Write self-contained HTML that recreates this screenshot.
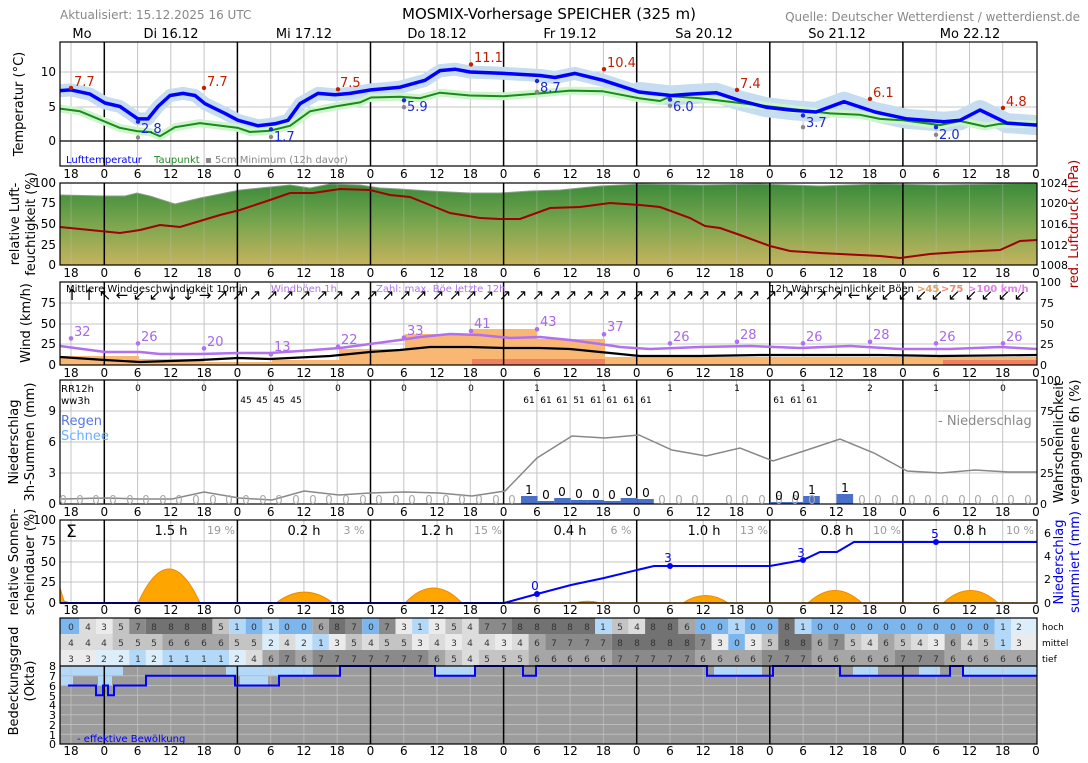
<!DOCTYPE html>
<html><head><meta charset="utf-8"><style>
body{margin:0;background:#fff}
svg{display:block;font-family:"DejaVu Sans","Liberation Sans",sans-serif}
.c0{fill:#7db6ec}.c1{fill:#b4d8f8}.c2{fill:#dceef9}.c3{fill:#ebebeb}.c4{fill:#dcdcdc}.c5{fill:#c4c4c4}.c6{fill:#a6a6a6}.c7{fill:#8a8a8a}.c8{fill:#727272}
</style></head><body>
<svg width="1088" height="763" viewBox="0 0 1088 763" xmlns="http://www.w3.org/2000/svg">
<defs>
<linearGradient id="hg" x1="0" y1="0" x2="0" y2="1">
<stop offset="0" stop-color="#3a8a3a"/><stop offset="0.5" stop-color="#7aa64e"/><stop offset="1" stop-color="#c6b35e"/>
</linearGradient>
<clipPath id="ct"><rect x="60" y="42" width="977" height="124"/></clipPath>
<path id="vl" d="M71,0V1M137.6,0V1M170.8,0V1M204.1,0V1M270.7,0V1M303.9,0V1M337.2,0V1M403.8,0V1M437,0V1M470.3,0V1M536.9,0V1M570.1,0V1M603.4,0V1M670,0V1M703.2,0V1M736.5,0V1M803.1,0V1M836.3,0V1M869.6,0V1M936.2,0V1M969.5,0V1M1002.7,0V1" stroke="#c4c4c4" stroke-width="1" fill="none"/>
<path id="vd" d="M104.3,0V1M237.4,0V1M370.5,0V1M503.6,0V1M636.7,0V1M769.8,0V1M902.9,0V1" stroke="#000" stroke-width="1.5" fill="none"/>
<g id="tk" font-size="12" text-anchor="middle" fill="#000">
<text x="71">18</text><text x="104.3">0</text><text x="137.6">6</text><text x="170.8">12</text><text x="204.1">18</text><text x="237.4">0</text><text x="270.7">6</text><text x="303.9">12</text><text x="337.2">18</text><text x="370.5">0</text><text x="403.8">6</text><text x="437">12</text><text x="470.3">18</text><text x="503.6">0</text><text x="536.9">6</text><text x="570.1">12</text><text x="603.4">18</text><text x="636.7">0</text><text x="670">6</text><text x="703.2">12</text><text x="736.5">18</text><text x="769.8">0</text><text x="803.1">6</text><text x="836.3">12</text><text x="869.6">18</text><text x="902.9">0</text><text x="936.2">6</text><text x="969.5">12</text><text x="1002.7">18</text><text x="1036">0</text>
</g>
</defs>
<rect width="1088" height="763" fill="#fff"/>

<!-- ===== Temperature ===== -->
<path d="M60,72H1037M60,107H1037" stroke="#c4c4c4"/>
<use href="#vl" transform="translate(0,42) scale(1,124)"/>
<use href="#vd" transform="translate(0,42) scale(1,124)"/>
<path d="M60,141H1037" stroke="#000" stroke-width="1.2"/>
<g clip-path="url(#ct)" fill="none" stroke-linejoin="round" stroke-linecap="round">
<path d="M639,92L671,95.5L690,94.1L716,92.7L739,100.3L766,107.2L790,110L816,112L844,101.7L875,112L907,118.9L944,121.7L960,120.3L980,110L1007,123.1L1037,125.1" stroke="#c6dcf0" stroke-width="20"/>
<path d="M60,90.6L71,89.9L90,94.1L105,103L120,106.5L138,118.9L148,118.9L158,106.5L170,95.5L183,93.4L195,95.5L205,103.7L225,113.4L238,120.3L258,125.8L275,123.8L288,120.3L300,103.7L318,93.4L335,94.8L350,93.4L371,89.9L400,87.2L425,80.3L440,70.6L455,69.2L470,72L504,73.4L540,75.5L555,77.5L575,73.4L603,80.3L639,92L671,95.5L690,94.1L716,92.7L739,100.3L766,107.2L790,110L816,112L844,101.7L875,112L907,118.9L944,121.7L960,120.3L980,110L1007,123.1L1037,125.1" stroke="#c6dcf0" stroke-width="13"/>
<path d="M60,108.6L80,111.3L105,121.7L120,127.9L138,131.3L150,132L160,136.2L175,127.2L200,123.1L238,127.9L250,132L270,130.7L290,125.8L310,111.3L335,106.5L360,102.4L371,97.5L400,96.8L420,98.2L440,92.7L470,95.5L504,96.2L540,93.4L570,90.6L603,91.3L639,98.2L660,101L671,96.2L700,98.2L740,103L770,106.5L800,110L830,113.4L860,114.8L880,118.9L903,120.3L940,125.1L960,121L985,126.5L1000,123.8L1037,124.4" stroke="#ccf5cc" stroke-width="8"/>
<path d="M60,108.6L80,111.3L105,121.7L120,127.9L138,131.3L150,132L160,136.2L175,127.2L200,123.1L238,127.9L250,132L270,130.7L290,125.8L310,111.3L335,106.5L360,102.4L371,97.5L400,96.8L420,98.2L440,92.7L470,95.5L504,96.2L540,93.4L570,90.6L603,91.3L639,98.2L660,101L671,96.2L700,98.2L740,103L770,106.5L800,110L830,113.4L860,114.8L880,118.9L903,120.3L940,125.1L960,121L985,126.5L1000,123.8L1037,124.4" stroke="#1a8a1a" stroke-width="2"/>
<path d="M60,90.6L71,89.9L90,94.1L105,103L120,106.5L138,118.9L148,118.9L158,106.5L170,95.5L183,93.4L195,95.5L205,103.7L225,113.4L238,120.3L258,125.8L275,123.8L288,120.3L300,103.7L318,93.4L335,94.8L350,93.4L371,89.9L400,87.2L425,80.3L440,70.6L455,69.2L470,72L504,73.4L540,75.5L555,77.5L575,73.4L603,80.3L639,92L671,95.5L690,94.1L716,92.7L739,100.3L766,107.2L790,110L816,112L844,101.7L875,112L907,118.9L944,121.7L960,120.3L980,110L1007,123.1L1037,125.1" stroke="#0000ff" stroke-width="3.5"/>
</g>
<g fill="#c02000"><circle cx="71" cy="87.9" r="2.2"/><circle cx="204" cy="87.9" r="2.2"/><circle cx="338" cy="89.3" r="2.2"/><circle cx="471" cy="64.4" r="2.2"/><circle cx="604" cy="69.2" r="2.2"/><circle cx="737" cy="89.9" r="2.2"/><circle cx="870" cy="98.9" r="2.2"/><circle cx="1003" cy="107.9" r="2.2"/></g>
<g fill="#1a2ad0"><circle cx="138" cy="121.7" r="2.2"/><circle cx="271" cy="129.3" r="2.2"/><circle cx="404" cy="100.3" r="2.2"/><circle cx="537" cy="81" r="2.2"/><circle cx="670" cy="99.6" r="2.2"/><circle cx="803" cy="115.5" r="2.2"/><circle cx="936" cy="127.2" r="2.2"/></g>
<g fill="#888"><circle cx="138" cy="137.5" r="2.2"/><circle cx="271" cy="136.9" r="2.2"/><circle cx="404" cy="107.2" r="2.2"/><circle cx="537" cy="92" r="2.2"/><circle cx="670" cy="105.8" r="2.2"/><circle cx="803" cy="127.2" r="2.2"/><circle cx="936" cy="134.8" r="2.2"/></g>

<!-- ===== Humidity ===== -->
<path d="M60,195L105,196L125,196L137,193L150,196L175,204L200,198L240,190L270,187L290,185L310,188L330,184L360,185L380,188L400,189L430,191L470,193L500,193L530,191L560,190L600,186L640,184L700,185L760,184L820,186L880,184L940,185L1000,184L1037,183L1037,265L60,265Z" fill="url(#hg)"/>
<path d="M60,195L105,196L125,196L137,193L150,196L175,204L200,198L240,190L270,187L290,185L310,188L330,184L360,185L380,188L400,189L430,191L470,193L500,193L530,191L560,190L600,186L640,184L700,185L760,184L820,186L880,184L940,185L1000,184L1037,183" fill="none" stroke="#8aa08a"/>
<use href="#vl" transform="translate(0,183) scale(1,82)" opacity="0.35"/>
<use href="#vd" transform="translate(0,183) scale(1,82)"/>
<path d="M60,227L90,230L120,233L140,230L160,225L180,227L200,221L220,215L240,210L270,200L290,193L313,193L340,189L370,190L390,195L410,197L430,205L450,213L480,218L500,219L520,219L550,208L580,207L610,203L640,205L660,207L690,218L705,226L720,228L740,235L770,246L790,251L820,253L840,254L860,255L880,256L900,258L930,254L960,252L1000,250L1020,241L1037,240" fill="none" stroke="#a00000" stroke-width="2"/>

<!-- ===== Wind ===== -->
<path d="M60,303H1037M60,324H1037M60,344H1037" stroke="#c4c4c4"/>
<use href="#vl" transform="translate(0,282) scale(1,83)"/>
<g fill="#f8b874">
<rect x="60" y="356" width="79" height="9"/><rect x="139" y="359" width="65" height="6"/><rect x="204" y="362" width="68" height="3"/><rect x="272" y="360" width="67" height="5"/><rect x="339" y="349" width="66" height="16"/><rect x="405" y="334" width="67" height="31"/><rect x="472" y="329" width="65" height="36"/><rect x="537" y="339" width="68" height="26"/><rect x="605" y="357" width="432" height="8"/>
</g>
<rect x="472" y="359" width="133" height="6" fill="#f08060"/><rect x="943" y="360" width="94" height="5" fill="#f08060"/>
<use href="#vd" transform="translate(0,282) scale(1,83)"/>
<path d="M60,346L105,352L140,352L160,354L200,354L238,353L270,353L300,351L340,348L370,344L400,340L420,337L450,334L480,335L510,338L540,337L570,340L600,344L620,347L650,349L700,347L750,346L800,348L850,346L900,349L950,349L1000,347L1037,349" fill="none" stroke="#b070f0" stroke-width="2.5"/>
<path d="M60,357L105,360L140,362L200,360L238,358L270,359L330,356L370,352L400,350L430,347L470,347L504,348L540,348L570,349L600,352L620,354L640,356L700,356L760,355L820,355L880,355L940,356L1037,355" fill="none" stroke="#000" stroke-width="2.2"/>
<g fill="#b070f0"><circle cx="71" cy="338.4" r="2.3"/><circle cx="138" cy="343.4" r="2.3"/><circle cx="204" cy="348.4" r="2.3"/><circle cx="271" cy="354.2" r="2.3"/><circle cx="338" cy="346.7" r="2.3"/><circle cx="404" cy="337.6" r="2.3"/><circle cx="471" cy="331" r="2.3"/><circle cx="537" cy="329.3" r="2.3"/><circle cx="604" cy="334.3" r="2.3"/><circle cx="670" cy="343.4" r="2.3"/><circle cx="737" cy="341.8" r="2.3"/><circle cx="803" cy="343.4" r="2.3"/><circle cx="870" cy="341.8" r="2.3"/><circle cx="936" cy="343.4" r="2.3"/><circle cx="1003" cy="343.4" r="2.3"/></g>
<text transform="translate(72,0)" y="300" font-size="15" text-anchor="middle" x="0 17 33 50 67 83 100 116 133 150 166 183 200 216 233 250 266 283 300 316 333 349 366 383 399 416 433 449 466 483 499 516 532 549 566 582 599 616 632 649 666 682 699 716 732 749 765 782 799 815 832 849 865 882 899 915 932 948">↑↑↖←↙↙↓↓→↗↗↗↗↗↗↗↗↗↗↗↗↗↗↗↗↗↗↗↗↗↗↗↗↗↗↗↗↗↗↗↗↗↗↗↗↗↗←↙↙↙↙↙↙↙↙↙↙</text>

<!-- ===== Precip ===== -->
<path d="M60,411H1037M60,442H1037M60,473H1037" stroke="#c4c4c4"/>
<use href="#vl" transform="translate(0,380) scale(1,124)"/>
<use href="#vd" transform="translate(0,380) scale(1,124)"/>
<path d="M61,499L105,498L139,499L172,499L204,492L239,498L272,500L304,491L339,495L370,493L405,492L439,493L472,496L505,491L537,458L572,436L605,438L639,435L672,450L706,456L740,448L773,461L807,450L840,439L874,453L907,471L941,473L975,470L1008,472L1037,472" fill="none" stroke="#888" stroke-width="1.5"/>
<g fill="#4a70c8">
<rect x="521" y="496" width="16.6" height="8"/><rect x="537.6" y="501" width="16.6" height="3"/><rect x="554.2" y="498" width="16.6" height="6"/><rect x="570.8" y="500" width="16.6" height="4"/><rect x="587.4" y="500" width="16.6" height="4"/><rect x="604" y="501" width="16.6" height="3"/><rect x="620.6" y="498" width="16.6" height="6"/><rect x="637.2" y="499" width="16.6" height="5"/>
<rect x="770" y="502" width="16.6" height="2"/><rect x="786.6" y="502" width="16.6" height="2"/><rect x="803.2" y="496" width="16.6" height="8"/><rect x="836.5" y="494" width="16.6" height="10"/>
</g>

<!-- ===== Sun ===== -->
<path d="M60,541H1037M60,562H1037M60,582H1037" stroke="#c4c4c4"/>
<use href="#vl" transform="translate(0,520) scale(1,83)"/>
<g fill="#ffa500" stroke="#f08a00">
<path d="M60,588L64,601L70,603L60,603Z"/>
<path d="M138,603Q169,535 200,603Z"/><path d="M276,603Q304.5,581.4 333,603Z"/><path d="M405,603Q433.5,573 462,603Z"/><path d="M575,603Q587.5,599.6 600,603Z"/><path d="M683,603Q705.5,588 728,603Z"/><path d="M808,603Q835,578 862,603Z"/><path d="M943,603Q970.5,578 998,603Z"/>
</g>
<use href="#vd" transform="translate(0,520) scale(1,83)"/>
<path d="M60,603H1037" stroke="#f08a00" stroke-width="1.5"/>
<path d="M60,603L504,603L537,594L571,585L604,578L637,570L654,566L670,566L770,566L803,560L820,552L837,552L854,542L1037,542" fill="none" stroke="#0000ff" stroke-width="2"/>
<g fill="#0000ff"><circle cx="537" cy="594" r="3"/><circle cx="670" cy="566" r="3"/><circle cx="803" cy="560" r="3"/><circle cx="936" cy="542" r="3"/></g>

<!-- ===== Cloud grid ===== -->
<g>
<rect class="c0" x="60" y="618" width="19.3" height="16"/><rect class="c4" x="79.3" y="618" width="16.7" height="16"/><rect class="c3" x="96" y="618" width="16.6" height="16"/><rect class="c5" x="112.6" y="618" width="16.6" height="16"/><rect class="c7" x="129.2" y="618" width="16.7" height="16"/><rect class="c8" x="145.9" y="618" width="66.5" height="16"/><rect class="c5" x="212.4" y="618" width="16.7" height="16"/><rect class="c1" x="229.1" y="618" width="16.6" height="16"/><rect class="c0" x="245.7" y="618" width="16.7" height="16"/><rect class="c1" x="262.4" y="618" width="16.6" height="16"/><rect class="c0" x="279" y="618" width="33.3" height="16"/><rect class="c6" x="312.3" y="618" width="16.6" height="16"/><rect class="c8" x="328.9" y="618" width="16.7" height="16"/><rect class="c7" x="345.6" y="618" width="16.6" height="16"/><rect class="c0" x="362.2" y="618" width="16.6" height="16"/><rect class="c7" x="378.8" y="618" width="16.7" height="16"/><rect class="c3" x="395.5" y="618" width="16.6" height="16"/><rect class="c1" x="412.1" y="618" width="16.7" height="16"/><rect class="c3" x="428.8" y="618" width="16.6" height="16"/><rect class="c5" x="445.4" y="618" width="16.6" height="16"/><rect class="c4" x="462" y="618" width="16.7" height="16"/><rect class="c7" x="478.7" y="618" width="33.3" height="16"/><rect class="c8" x="512" y="618" width="83.2" height="16"/><rect class="c1" x="595.2" y="618" width="16.6" height="16"/><rect class="c5" x="611.8" y="618" width="16.6" height="16"/><rect class="c4" x="628.4" y="618" width="16.7" height="16"/><rect class="c8" x="645.1" y="618" width="33.3" height="16"/><rect class="c6" x="678.4" y="618" width="16.6" height="16"/><rect class="c0" x="695" y="618" width="33.3" height="16"/><rect class="c1" x="728.3" y="618" width="16.6" height="16"/><rect class="c0" x="744.9" y="618" width="33.3" height="16"/><rect class="c8" x="778.2" y="618" width="16.6" height="16"/><rect class="c1" x="794.8" y="618" width="16.7" height="16"/><rect class="c0" x="811.5" y="618" width="183" height="16"/><rect class="c1" x="994.5" y="618" width="16.7" height="16"/><rect class="c2" x="1011.2" y="618" width="25.8" height="16"/>

<rect class="c4" x="60" y="634" width="52.6" height="16"/><rect class="c5" x="112.6" y="634" width="49.9" height="16"/><rect class="c6" x="162.5" y="634" width="66.6" height="16"/><rect class="c5" x="229.1" y="634" width="33.3" height="16"/><rect class="c2" x="262.4" y="634" width="16.6" height="16"/><rect class="c4" x="279" y="634" width="16.6" height="16"/><rect class="c2" x="295.6" y="634" width="16.7" height="16"/><rect class="c1" x="312.3" y="634" width="16.6" height="16"/><rect class="c3" x="328.9" y="634" width="16.7" height="16"/><rect class="c5" x="345.6" y="634" width="16.6" height="16"/><rect class="c4" x="362.2" y="634" width="16.6" height="16"/><rect class="c5" x="378.8" y="634" width="33.3" height="16"/><rect class="c3" x="412.1" y="634" width="16.7" height="16"/><rect class="c4" x="428.8" y="634" width="16.6" height="16"/><rect class="c3" x="445.4" y="634" width="16.6" height="16"/><rect class="c4" x="462" y="634" width="33.3" height="16"/><rect class="c3" x="495.3" y="634" width="16.7" height="16"/><rect class="c4" x="512" y="634" width="16.6" height="16"/><rect class="c6" x="528.6" y="634" width="16.6" height="16"/><rect class="c7" x="545.2" y="634" width="66.6" height="16"/><rect class="c8" x="611.8" y="634" width="83.2" height="16"/><rect class="c7" x="695" y="634" width="16.6" height="16"/><rect class="c3" x="711.6" y="634" width="16.7" height="16"/><rect class="c0" x="728.3" y="634" width="16.6" height="16"/><rect class="c3" x="744.9" y="634" width="16.7" height="16"/><rect class="c5" x="761.6" y="634" width="16.6" height="16"/><rect class="c8" x="778.2" y="634" width="33.3" height="16"/><rect class="c6" x="811.5" y="634" width="16.6" height="16"/><rect class="c7" x="828.1" y="634" width="16.7" height="16"/><rect class="c5" x="844.8" y="634" width="16.6" height="16"/><rect class="c4" x="861.4" y="634" width="16.6" height="16"/><rect class="c6" x="878" y="634" width="16.7" height="16"/><rect class="c5" x="894.7" y="634" width="16.6" height="16"/><rect class="c4" x="911.3" y="634" width="16.7" height="16"/><rect class="c3" x="928" y="634" width="16.6" height="16"/><rect class="c6" x="944.6" y="634" width="16.6" height="16"/><rect class="c4" x="961.2" y="634" width="16.7" height="16"/><rect class="c5" x="977.9" y="634" width="16.6" height="16"/><rect class="c1" x="994.5" y="634" width="16.7" height="16"/><rect class="c3" x="1011.2" y="634" width="25.8" height="16"/>

<rect class="c3" x="60" y="650" width="36" height="16"/><rect class="c2" x="96" y="650" width="33.2" height="16"/><rect class="c1" x="129.2" y="650" width="16.7" height="16"/><rect class="c2" x="145.9" y="650" width="16.6" height="16"/><rect class="c1" x="162.5" y="650" width="66.6" height="16"/><rect class="c2" x="229.1" y="650" width="16.6" height="16"/><rect class="c4" x="245.7" y="650" width="16.7" height="16"/><rect class="c6" x="262.4" y="650" width="16.6" height="16"/><rect class="c7" x="279" y="650" width="16.6" height="16"/><rect class="c6" x="295.6" y="650" width="16.7" height="16"/><rect class="c7" x="312.3" y="650" width="116.5" height="16"/><rect class="c6" x="428.8" y="650" width="16.6" height="16"/><rect class="c5" x="445.4" y="650" width="16.6" height="16"/><rect class="c4" x="462" y="650" width="16.7" height="16"/><rect class="c5" x="478.7" y="650" width="49.9" height="16"/><rect class="c6" x="528.6" y="650" width="83.2" height="16"/><rect class="c7" x="611.8" y="650" width="83.2" height="16"/><rect class="c6" x="695" y="650" width="66.6" height="16"/><rect class="c7" x="761.6" y="650" width="49.9" height="16"/><rect class="c6" x="811.5" y="650" width="83.2" height="16"/><rect class="c7" x="894.7" y="650" width="49.9" height="16"/><rect class="c6" x="944.6" y="650" width="92.4" height="16"/>
</g>

<!-- ===== Cloud graph ===== -->
<rect x="60" y="666" width="977" height="78" fill="#9c9c9c"/>
<g fill="#b4d8f8">
<rect x="61" y="666" width="62" height="10"/><rect x="61" y="676" width="12" height="9"/><rect x="98" y="676" width="14" height="9"/><rect x="226" y="666" width="87" height="10"/><rect x="240" y="676" width="28" height="9"/><rect x="435" y="666" width="40" height="10"/><rect x="714" y="666" width="48" height="10"/><rect x="853" y="666" width="25" height="10"/><rect x="919" y="666" width="21" height="10"/><rect x="963" y="666" width="74" height="10"/>
</g>
<path d="M60,675.75H1037M60,685.5H1037M60,695.25H1037M60,705H1037M60,714.75H1037M60,724.5H1037M60,734.25H1037" stroke="#bcbcbc"/>
<use href="#vl" transform="translate(0,666) scale(1,78)" opacity="0.7"/>
<use href="#vd" transform="translate(0,666) scale(1,78)"/>
<path d="M68,685.5H96V695.3H103V685.5H108V695.3H114V685.5H146V675.8H235V685.5H279V675.8H340V666H435V675.8H475V666H523V675.8H536V666H707V675.8H773V666H840V675.8H950V666H963V675.8H1037" fill="none" stroke="#0000ff" stroke-width="2"/>

<!-- frames -->
<g fill="none" stroke="#000" stroke-width="1.2">
<rect x="60" y="42" width="977" height="124"/><rect x="60" y="183" width="977" height="82"/><rect x="60" y="282" width="977" height="83"/><rect x="60" y="380" width="977" height="124"/><rect x="60" y="520" width="977" height="83"/><rect x="60" y="618" width="977" height="126"/>
</g>
<path d="M60,666H1037" stroke="#000" stroke-width="1.2"/>

<!-- header -->
<text x="60" y="19" font-size="12" fill="#888">Aktualisiert: 15.12.2025 16 UTC</text>
<text x="549" y="19" font-size="15" text-anchor="middle">MOSMIX-Vorhersage SPEICHER (325 m)</text>
<text x="1080" y="21" font-size="12" fill="#888" text-anchor="end">Quelle: Deutscher Wetterdienst / wetterdienst.de</text>
<g font-size="13" text-anchor="middle">
<text x="82" y="38">Mo</text><text x="171" y="38">Di 16.12</text><text x="304" y="38">Mi 17.12</text><text x="437" y="38">Do 18.12</text><text x="570" y="38">Fr 19.12</text><text x="704" y="38">Sa 20.12</text><text x="837" y="38">So 21.12</text><text x="970" y="38">Mo 22.12</text>
</g>

<use href="#tk" y="178"/><use href="#tk" y="277"/><use href="#tk" y="377"/><use href="#tk" y="516"/><use href="#tk" y="614"/><use href="#tk" y="755"/>

<g font-size="12" text-anchor="end">
<text x="56" y="76">10</text><text x="56" y="111">5</text><text x="56" y="145">0</text>
<text x="56" y="187">100</text><text x="56" y="207">75</text><text x="56" y="228">50</text><text x="56" y="249">25</text><text x="56" y="269">0</text>
<text x="56" y="307">75</text><text x="56" y="328">50</text><text x="56" y="348">25</text><text x="56" y="369">0</text>
<text x="56" y="415">9</text><text x="56" y="446">6</text><text x="56" y="477">3</text><text x="56" y="508">0</text>
<text x="56" y="524">100</text><text x="56" y="545">75</text><text x="56" y="566">50</text><text x="56" y="586">25</text><text x="56" y="607">0</text>
</g>
<g font-size="11" text-anchor="end">
<text x="56" y="670">8</text><text x="56" y="680">7</text><text x="56" y="690">6</text><text x="56" y="700">5</text><text x="56" y="709">4</text><text x="56" y="719">3</text><text x="56" y="729">2</text><text x="56" y="739">1</text><text x="56" y="748">0</text>
</g>
<g font-size="11">
<text x="1040" y="187">1024</text><text x="1040" y="207">1020</text><text x="1040" y="228">1016</text><text x="1040" y="249">1012</text><text x="1040" y="269">1008</text>
<text x="1040" y="286">100</text><text x="1040" y="307">75</text><text x="1040" y="328">50</text><text x="1040" y="348">25</text><text x="1040" y="369">0</text>
<text x="1040" y="384">100</text><text x="1040" y="415">75</text><text x="1040" y="446">50</text><text x="1040" y="477">25</text><text x="1040" y="508">0</text>
<text x="1044" y="537">6</text><text x="1044" y="560">4</text><text x="1044" y="583">2</text><text x="1044" y="607">0</text>
<text x="1042" y="630" font-size="9">hoch</text><text x="1042" y="646" font-size="9">mittel</text><text x="1042" y="662" font-size="9">tief</text>
</g>

<g font-size="13" text-anchor="middle">
<text transform="translate(23,104) rotate(-90)">Temperatur (°C)</text>
<text transform="translate(19,224) rotate(-90)">relative Luft-</text>
<text transform="translate(35,224) rotate(-90)">feuchtigkeit (%)</text>
<text transform="translate(30,323) rotate(-90)">Wind (km/h)</text>
<text transform="translate(18,442) rotate(-90)">Niederschlag</text>
<text transform="translate(34,442) rotate(-90)">3h-Summen (mm)</text>
<text transform="translate(18,562) rotate(-90)">relative Sonnen-</text>
<text transform="translate(34,562) rotate(-90)">scheindauer (%)</text>
<text transform="translate(18,681) rotate(-90)">Bedeckungsgrad</text>
<text transform="translate(34,681) rotate(-90)">(Okta)</text>
<text transform="translate(1078,224) rotate(-90)" fill="#b00000">red. Luftdruck (hPa)</text>
<text transform="translate(1063,442) rotate(-90)">Wahrscheinlichkeit</text>
<text transform="translate(1079,442) rotate(-90)">vergangene 6h (%)</text>
<text transform="translate(1063,562) rotate(-90)" fill="#0000e0">Niederschlag</text>
<text transform="translate(1079,562) rotate(-90)" fill="#0000e0">summiert (mm)</text>
</g>

<g font-size="13">
<g fill="#c02000"><text x="74" y="86">7.7</text><text x="207" y="86">7.7</text><text x="340" y="87">7.5</text><text x="474" y="62">11.1</text><text x="607" y="67">10.4</text><text x="740" y="88">7.4</text><text x="873" y="97">6.1</text><text x="1006" y="106">4.8</text></g>
<g fill="#1a2ad0"><text x="141" y="133">2.8</text><text x="274" y="141">1.7</text><text x="407" y="111">5.9</text><text x="540" y="92">8.7</text><text x="673" y="111">6.0</text><text x="806" y="127">3.7</text><text x="939" y="139">2.0</text></g>
</g>
<text x="66" y="163" font-size="10" fill="#0000ff">Lufttemperatur</text>
<text x="154" y="163" font-size="10" fill="#228b22">Taupunkt</text>
<text x="205" y="163" font-size="10" fill="#888">▪ 5cm Minimum (12h davor)</text>

<text x="66" y="292" font-size="10">Mittlere Windgeschwindigkeit 10min</text>
<text x="271" y="292" font-size="10" fill="#b070f0">Windböen 1h</text>
<text x="376" y="292" font-size="10" fill="#b070f0">Zahl: max. Böe letzte 12h</text>
<text x="914" y="292" font-size="10" text-anchor="end">12h Wahrscheinlichkeit Böen</text>
<text x="917" y="292" font-size="10" fill="#e8a060" font-weight="bold">&gt;45</text>
<text x="941" y="292" font-size="10" fill="#f08870" font-weight="bold">&gt;75</text>
<text x="968" y="292" font-size="10" fill="#e080e8" font-weight="bold">&gt;100 km/h</text>
<g font-size="13" fill="#a868e8">
<text x="74" y="336">32</text><text x="141" y="341">26</text><text x="207" y="346">20</text><text x="274" y="351">13</text><text x="341" y="344">22</text><text x="407" y="335">33</text><text x="474" y="328">41</text><text x="540" y="326">43</text><text x="607" y="331">37</text><text x="673" y="341">26</text><text x="740" y="339">28</text><text x="806" y="341">26</text><text x="873" y="339">28</text><text x="939" y="341">26</text><text x="1006" y="341">26</text>
</g>

<text x="61" y="392" font-size="10">RR12h</text>
<text x="61" y="404" font-size="10">ww3h</text>
<g font-size="9" text-anchor="middle">
<text x="138" y="391">0</text><text x="204" y="391">0</text><text x="271" y="391">0</text><text x="338" y="391">0</text><text x="404" y="391">0</text><text x="471" y="391">0</text><text x="537" y="391">1</text><text x="604" y="391">1</text><text x="670" y="391">1</text><text x="737" y="391">1</text><text x="803" y="391">1</text><text x="870" y="391">2</text><text x="936" y="391">1</text><text x="1003" y="391">0</text>
<text x="246" y="403">45</text><text x="262" y="403">45</text><text x="279" y="403">45</text><text x="296" y="403">45</text>
<text x="529" y="403">61</text><text x="546" y="403">61</text><text x="562" y="403">61</text><text x="579" y="403">51</text><text x="596" y="403">61</text><text x="612" y="403">61</text><text x="629" y="403">61</text><text x="646" y="403">61</text>
<text x="779" y="403">61</text><text x="796" y="403">61</text><text x="812" y="403">61</text>
</g>
<text x="61" y="425" font-size="13" fill="#5577dd">Regen</text>
<text x="61" y="440" font-size="13" fill="#66b0ff">Schnee</text>
<text x="938" y="425" font-size="13" fill="#888">- Niederschlag</text>
<text transform="translate(63,0)" x="0 17 33 50 67 83 100 116 133 150 166 183 200 216 233 250 266 283 300 316 333 349 366 383 399 416 433 449" y="504" font-size="12" fill="#aaa" text-anchor="middle">0000000000000000000000000000</text>
<text transform="translate(63,0)" x="632 749 799 815 832 849 865 882 899 915 932 948 965" y="504" font-size="12" fill="#aaa" text-anchor="middle">0000000000000</text>
<text transform="translate(63,0)" x="599 616 666 682 699 716 732" y="504" font-size="12" fill="#aaa" text-anchor="middle">0000000</text>
<g font-size="12" text-anchor="middle">
<text x="529" y="494">1</text><text x="546" y="499">0</text><text x="562" y="496">0</text><text x="579" y="498">0</text><text x="596" y="498">0</text><text x="612" y="499">0</text><text x="629" y="496">0</text><text x="646" y="497">0</text>
<text x="779" y="500">0</text><text x="796" y="500">0</text><text x="812" y="494">1</text><text x="845" y="492">1</text>
</g>

<text x="66" y="537" font-size="17">Σ</text>
<g font-size="13" text-anchor="middle">
<text x="171" y="535">1.5 h</text><text x="304" y="535">0.2 h</text><text x="437" y="535">1.2 h</text><text x="570" y="535">0.4 h</text><text x="704" y="535">1.0 h</text><text x="837" y="535">0.8 h</text><text x="970" y="535">0.8 h</text>
</g>
<g font-size="11" fill="#999" text-anchor="middle">
<text x="221" y="534">19 %</text><text x="354" y="534">3 %</text><text x="488" y="534">15 %</text><text x="621" y="534">6 %</text><text x="754" y="534">13 %</text><text x="887" y="534">10 %</text><text x="1020" y="534">10 %</text>
</g>
<g font-size="12" fill="#0000ee" text-anchor="middle">
<text x="535" y="590">0</text><text x="668" y="562">3</text><text x="801" y="557">3</text><text x="935" y="538">5</text>
</g>

<g font-size="9" fill="#333" text-anchor="middle">
<text transform="translate(71,0)" y="630" x="0 17 33 50 67 83 100 116 133 150 166 183 200 216 233 250 266 283 300 316 333 349 366 383 399 416 433 449 466 483 499 516 532 549 566 582 599 616 632 649 666 682 699 716 732 749 765 782 799 815 832 849 865 882 899 915 932 948">0435788885101006870731354778888815488600100810000000000012</text>
<text transform="translate(71,0)" y="646" x="0 17 33 50 67 83 100 116 133 150 166 183 200 216 233 250 266 283 300 316 333 349 366 383 399 416 433 449 466 483 499 516 532 549 566 582 599 616 632 649 666 682 699 716 732 749 765 782 799 815 832 849 865 882 899 915 932 948">4445556666552421354553434434677778888873035886754654364513</text>
<text transform="translate(71,0)" y="662" x="0 17 33 50 67 83 100 116 133 150 166 183 200 216 233 250 266 283 300 316 333 349 366 383 399 416 433 449 466 483 499 516 532 549 566 582 599 616 632 649 666 682 699 716 732 749 765 782 799 815 832 849 865 882 899 915 932 948">3322121111246767777777654555666667777766667776666677766666</text>
</g>
<text x="77" y="742" font-size="10" fill="#0000ff">- effektive Bewölkung</text>
</svg>
</body></html>
